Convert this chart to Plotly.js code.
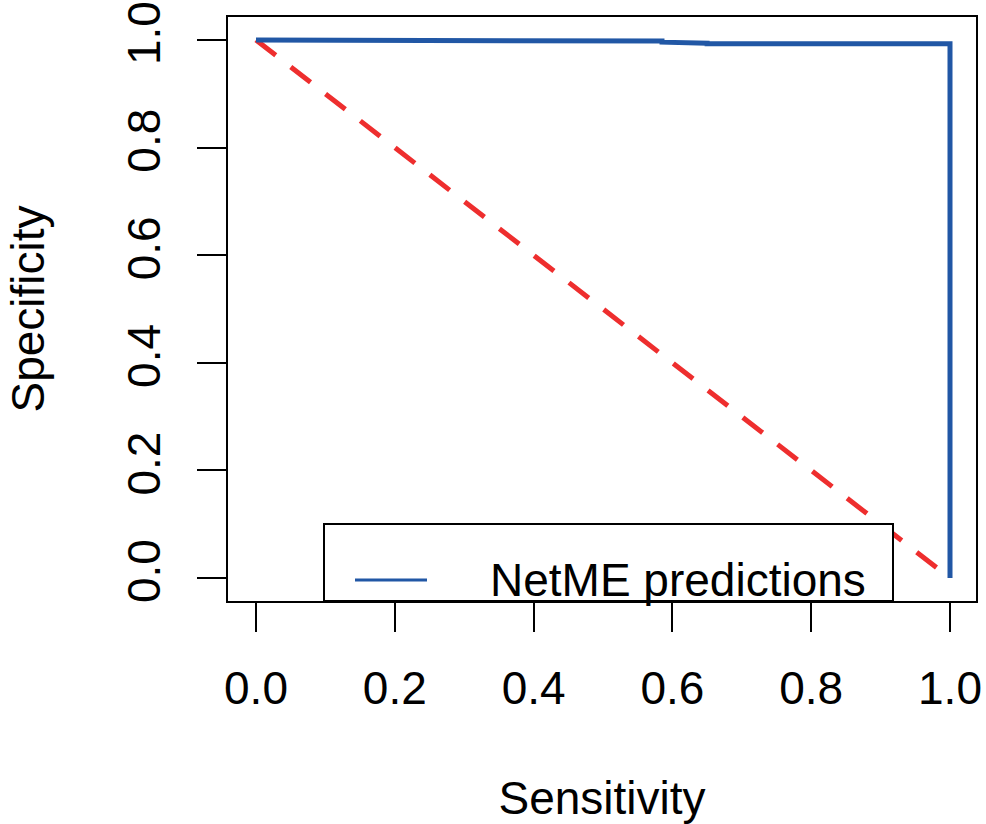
<!DOCTYPE html>
<html>
<head>
<meta charset="utf-8">
<script src="https://cdn.plot.ly/plotly-3.0.1.min.js"></script>
<style>html,body{margin:0;padding:0;background:#fff;}#chart{width:986px;height:824px;}</style>
</head>
<body>
<div id="chart"></div>
<script>
// ROC curve points (sensitivity, specificity)
const sensitivity = [0, 0.25, 0.25, 0.585, 0.585, 0.628, 0.628, 0.65, 0.65, 1.0, 1.0];
const specificity = [1.0, 1.0, 0.998, 0.998, 0.996, 0.996, 0.994, 0.994, 0.993, 0.993, 0.0];
// Reference diagonal
const refX = [0, 1];
const refY = [1, 0];
const seriesName = "NetME predictions";
const tickVals = [0, 0.2, 0.4, 0.6, 0.8, 1.0];
const tickText = ["0.0", "0.2", "0.4", "0.6", "0.8", "1.0"];

const blue = "#2157A5";
const red = "#EE2E2E";
const font = "Liberation Sans, Arial, sans-serif";

const traces = [
  {x: refX, y: refY, mode: "lines", name: "random", showlegend: false,
   line: {color: red, width: 5, dash: "25px,19px"}, hoverinfo: "skip"},
  {x: sensitivity, y: specificity, mode: "lines", name: seriesName, showlegend: false,
   line: {color: blue, width: 5}}
];

const xr = [-28/694, 1 + 26/694];
const yr = [-23/538, 1 + 23/538];

const layout = {
  width: 986, height: 824,
  margin: {l: 228, r: 10, t: 17, b: 223},
  paper_bgcolor: "#fff", plot_bgcolor: "#fff",
  showlegend: false,
  font: {family: font, size: 46, color: "#000"},
  xaxis: {
    range: xr, showgrid: false, zeroline: false,
    showline: true, mirror: true, linecolor: "#000", linewidth: 2,
    ticks: "outside", ticklen: 29, tickwidth: 2, tickcolor: "#000",
    tickvals: tickVals, ticktext: tickText, ticklabelstandoff: 17,
    tickfont: {family: font, size: 46},
    title: {text: "Sensitivity", font: {family: font, size: 46}, standoff: 76}
  },
  yaxis: {
    range: yr, showgrid: false, zeroline: false,
    showline: true, mirror: true, linecolor: "#000", linewidth: 2,
    ticks: "outside", ticklen: 29, tickwidth: 2, tickcolor: "#000",
    tickvals: tickVals, ticktext: tickText, tickangle: -90, ticklabelstandoff: 19,
    tickfont: {family: font, size: 46},
    title: {text: "Specificity", font: {family: font, size: 46}, standoff: 58}
  },
  shapes: [
    {type: "rect", xref: "x", yref: "y", layer: "above",
     x0: 68/694, x1: 637/694, y0: yr[0], y1: 54/538,
     fillcolor: "#fff", line: {color: "#000", width: 2}},
    {type: "line", xref: "x", yref: "y", layer: "above",
     x0: 99/694, x1: 171/694, y0: -2/538, y1: -2/538,
     line: {color: blue, width: 3}}
  ],
  annotations: [
    {xref: "x", yref: "y", x: 232/694, y: -2/538, xanchor: "left", yanchor: "middle",
     text: seriesName, showarrow: false, font: {family: font, size: 46, color: "#000"}}
  ]
};

Plotly.newPlot("chart", traces, layout, {displayModeBar: false, staticPlot: true});
</script>
</body>
</html>
